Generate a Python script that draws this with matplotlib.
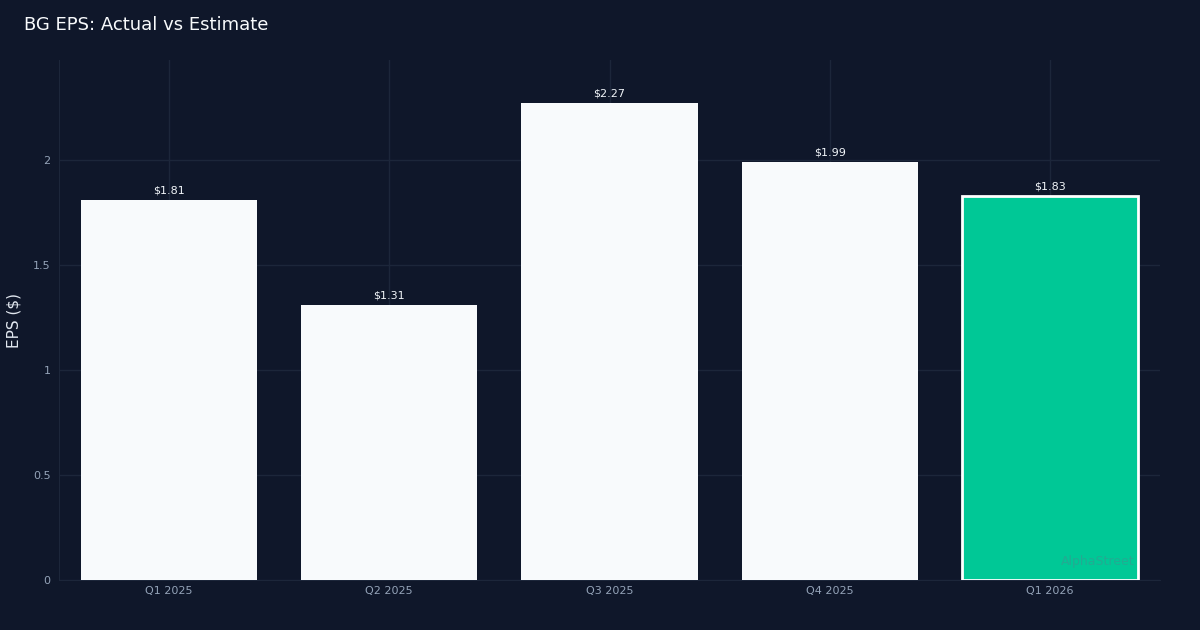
import matplotlib.pyplot as plt

quarters = ["Q1 2025", "Q2 2025", "Q3 2025", "Q4 2025", "Q1 2026"]
eps = [1.81, 1.31, 2.27, 1.99, 1.83]
labels = ["$1.81", "$1.31", "$2.27", "$1.99", "$1.83"]

bg = "#0f172a"
grid_c = "#1c263a"
tick_c = "#94a3b8"

fig = plt.figure(figsize=(12, 6.3), dpi=100, facecolor=bg)
ax = fig.add_axes([59/1200, 50/630, 1101/1200, 520/630], facecolor=bg)

x = range(len(quarters))
colors = ["#f8fafc"] * 4 + ["#00c896"]
edges = ["#f8fafc"] * 4 + ["#ffffff"]
lws = [0, 0, 0, 0, 2]
bars = ax.bar(x, eps, width=0.8, color=colors, edgecolor=edges, linewidth=lws, zorder=3)

for i, b in enumerate(bars):
    ax.text(b.get_x() + b.get_width()/2, eps[i] + 0.022, labels[i],
            ha="center", va="bottom", fontsize=8, color="#f1f5f9", zorder=4)

ax.set_xlim(-0.5, 4.5)
ax.set_ylim(0, 2.476)
ax.set_xticks(list(x))
ax.set_xticklabels(quarters)
ax.set_yticks([0, 0.5, 1, 1.5, 2])
ax.set_yticklabels(["0", "0.5", "1", "1.5", "2"])
ax.tick_params(colors=tick_c, labelsize=8, length=0)
ax.tick_params(axis="x", pad=4)
ax.tick_params(axis="y", pad=6)
ax.grid(True, color=grid_c, linewidth=1, zorder=0)

for s in ["top", "right"]:
    ax.spines[s].set_visible(False)
for s in ["left", "bottom"]:
    ax.spines[s].set_color(grid_c)

ax.set_ylabel("EPS ($)", fontsize=11, color="#e2e8f0", labelpad=8)
fig.text(24/1200, 1 - 25/630, "BG EPS: Actual vs Estimate", fontsize=13,
         color="#f8fafc", ha="left", va="center")
ax.text(0.977, 0.035, "AlphaStreet", transform=ax.transAxes, ha="right", va="center",
        fontsize=9, color="#64748b", alpha=0.35, zorder=5)

fig.savefig("out.png", dpi=100, facecolor=bg)
